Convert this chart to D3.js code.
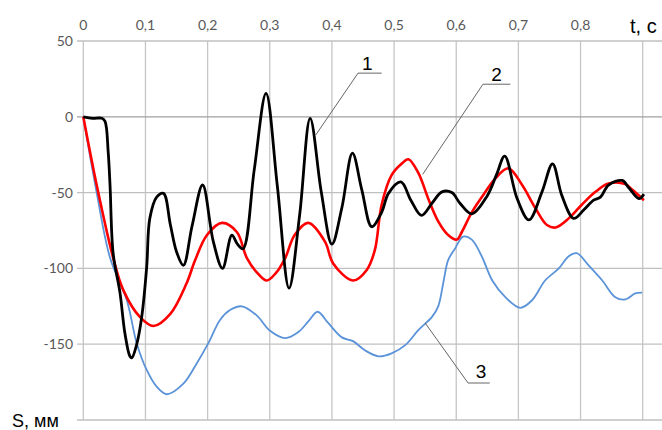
<!DOCTYPE html>
<html>
<head>
    <meta charset="utf-8">
    <script src="https://cdnjs.cloudflare.com/ajax/libs/d3/7.8.5/d3.min.js"></script>
    <style>
        body { margin: 0; background-color: #fff; }
        .tick-label { font: 14px Lato; fill: #595959; }
    </style>
</head>
<body>
    <svg width="662" height="430"></svg>
    <script>
        // tick values (0,9 has a grid line but no label: "t, c" sits there)
        var tTicks = [0, 0.1, 0.2, 0.3, 0.4, 0.5, 0.6, 0.7, 0.8, 0.9],
            tLabels = [0, 0.1, 0.2, 0.3, 0.4, 0.5, 0.6, 0.7, 0.8],
            sTicks = [50, 0, -50, -100, -150, -200],
            sLabels = [50, 0, -50, -100, -150];

        // curve 1 (black), [t, S]
        var curve1 = [[0,0],[0.015,-1],[0.03,-1],[0.035,-3],[0.04,-23],[0.043,-45],[0.048,-90],[0.059,-116],
            [0.067,-143],[0.075,-158],[0.078,-159],[0.086,-150],[0.094,-132],[0.102,-99],[0.107,-67],[0.118,-53],
            [0.129,-50.5],[0.14,-71],[0.15,-89],[0.161,-98],[0.175,-72],[0.192,-45],[0.209,-82],[0.224,-100],
            [0.239,-78],[0.248,-84],[0.257,-87],[0.275,-35],[0.294,15.5],[0.312,-45],[0.331,-113],[0.348,-65],
            [0.365,-1],[0.383,-50],[0.40,-84],[0.416,-60],[0.433,-24],[0.448,-48],[0.464,-72.5],[0.48,-63],
            [0.491,-50.5],[0.511,-43],[0.527,-55],[0.544,-65],[0.561,-57],[0.577,-49.5],[0.593,-50],[0.606,-57],
            [0.625,-64],[0.65,-52],[0.665,-38],[0.678,-26],[0.698,-54],[0.717,-68],[0.738,-49.5],[0.755,-31],
            [0.77,-52],[0.789,-67],[0.805,-61.5],[0.821,-55],[0.832,-53],[0.845,-45],[0.867,-42],[0.878,-47],
            [0.894,-54],[0.902,-51]];

        // curve 2 (red)
        var curve2 = [[0,0],[0.0215,-45],[0.048,-93],[0.064,-114],[0.091,-132],[0.113,-138],[0.14,-130],
            [0.166,-110],[0.18,-94.5],[0.199,-78],[0.223,-70],[0.247,-76],[0.263,-93],[0.28,-103],[0.295,-108],
            [0.31,-103],[0.325,-93],[0.34,-78],[0.362,-70],[0.389,-82.5],[0.402,-96.7],[0.434,-108],[0.456,-101],
            [0.469,-88],[0.48,-58],[0.496,-38.5],[0.512,-31],[0.523,-28],[0.539,-37],[0.555,-54],[0.571,-69],
            [0.587,-78],[0.601,-81],[0.609,-76],[0.625,-63],[0.647,-49.5],[0.663,-40.6],[0.684,-34],[0.706,-45],
            [0.727,-60],[0.746,-71.4],[0.76,-73],[0.781,-67],[0.802,-58],[0.824,-49.5],[0.845,-44],[0.872,-44.4],
            [0.883,-48],[0.902,-55]];

        // curve 3 (blue)
        var curve3 = [[0,0],[0.0215,-50],[0.043,-93],[0.07,-121],[0.086,-149.5],[0.102,-167],[0.118,-178],
            [0.134,-183],[0.161,-176],[0.182,-163],[0.201,-149.5],[0.22,-134],[0.236,-127.5],[0.255,-125],
            [0.279,-131],[0.30,-141],[0.325,-146],[0.346,-142],[0.362,-135],[0.377,-128.6],[0.394,-136],
            [0.416,-145.5],[0.434,-148],[0.453,-154],[0.475,-158],[0.496,-156],[0.518,-150.6],[0.539,-140.7],
            [0.561,-132],[0.571,-125],[0.579,-110],[0.587,-94.5],[0.598,-87],[0.611,-79],[0.625,-81],
            [0.641,-92],[0.658,-108],[0.679,-119],[0.703,-126],[0.722,-121],[0.743,-108],[0.765,-100],
            [0.781,-92],[0.794,-90],[0.813,-98],[0.835,-108],[0.856,-119],[0.872,-120.5],[0.888,-116.5],
            [0.899,-116]];

        // callouts: point on curve, elbow, underline end, label
        var callouts = [
            {label: "1", p: [0.374, -12], e: [0.442, 28.8], end: 0.48, lt: 0.457, ls: 31},
            {label: "2", p: [0.546, -38], e: [0.643, 21.5], end: 0.687, lt: 0.665, ls: 23.5},
            {label: "3", p: [0.55, -136], e: [0.619, -175.6], end: 0.654, lt: 0.64, ls: -172.5}
        ];

        var svg = d3.select("svg");

        var x = d3.scaleLinear().domain([0, 0.9]).range([83.3, 642.7]),
            y = d3.scaleLinear().domain([-200, 50]).range([420, 41]);
        var right = 662;
        var fmt = function(d) { return d === 0 ? "0" : d3.format(".1f")(d).replace(".", ","); };

        // grid
        svg.append("g").selectAll("line.v")
            .data(tTicks).enter().append("line")
            .attr("x1", function(d) { return x(d); }).attr("x2", function(d) { return x(d); })
            .attr("y1", y(50)).attr("y2", y(-200))
            .style("stroke", "#c6c6c6").style("stroke-width", 1.3);
        svg.append("g").selectAll("line.h")
            .data(sTicks).enter().append("line")
            .attr("x1", 77).attr("x2", right)
            .attr("y1", function(d) { return y(d); }).attr("y2", function(d) { return y(d); })
            .style("stroke", function(d) { return d === 0 ? "#a0a0a0" : "#c0c0c0"; })
            .style("stroke-width", 1.3);

        // tick labels
        svg.append("g").selectAll("text")
            .data(tLabels).enter().append("text")
            .attr("class", "tick-label")
            .attr("x", function(d) { return x(d); })
            .attr("y", 30)
            .attr("text-anchor", "middle")
            .text(fmt);
        svg.append("g").selectAll("text")
            .data(sLabels).enter().append("text")
            .attr("class", "tick-label")
            .attr("x", 73)
            .attr("y", function(d) { return y(d) + 5; })
            .attr("text-anchor", "end")
            .text(function(d) { return d; });

        svg.append("text").attr("x", 630).attr("y", 33)
            .style("font", "20px 'Liberation Sans'").style("fill", "#000").text("t, c");
        svg.append("text").attr("x", 12).attr("y", 427)
            .style("font", "18px 'Liberation Sans'").style("fill", "#000").text("S, мм");

        // curves
        var line = d3.line()
            .x(function(d) { return x(d[0]); })
            .y(function(d) { return y(d[1]); })
            .curve(d3.curveCatmullRom.alpha(0.5));

        svg.append("path").datum(curve3).attr("d", line)
            .style("fill", "none").style("stroke", "#5b93d8").style("stroke-width", 1.8);
        svg.append("path").datum(curve2).attr("d", line)
            .style("fill", "none").style("stroke", "#ff0000").style("stroke-width", 2.6);
        svg.append("path").datum(curve1).attr("d", line)
            .style("fill", "none").style("stroke", "#000").style("stroke-width", 2.8);

        // callouts
        var c = svg.append("g").selectAll("g").data(callouts).enter().append("g");
        c.append("polyline")
            .attr("points", function(d) {
                return [[x(d.p[0]), y(d.p[1])], [x(d.e[0]), y(d.e[1])], [x(d.end), y(d.e[1])]].join(" ");
            })
            .style("fill", "none").style("stroke", "#666").style("stroke-width", 1);
        c.append("text")
            .attr("x", function(d) { return x(d.lt); })
            .attr("y", function(d) { return y(d.ls); })
            .attr("text-anchor", "middle")
            .style("font", "19px 'Liberation Sans'").style("fill", "#000")
            .text(function(d) { return d.label; });
    </script>
</body>
</html>
